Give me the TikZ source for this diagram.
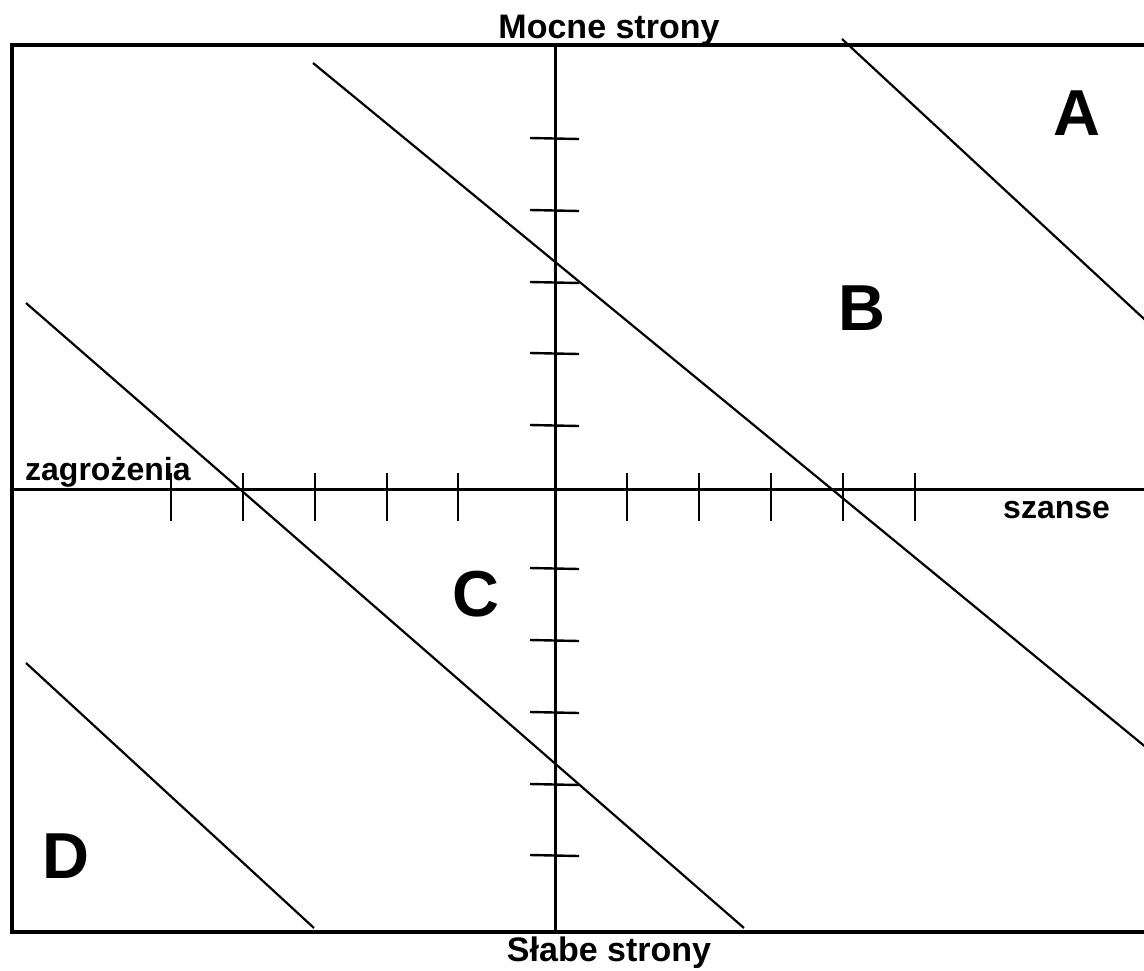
\documentclass[tikz,border=0pt]{standalone}
\usepackage{fontspec}
\setmainfont{Liberation Sans}
\begin{document}
\begin{tikzpicture}[x=1pt,y=-1pt,
  frame/.style={line width=3.4pt},
  axis/.style={line width=3pt},
  tick/.style={line width=2.4pt},
  diag/.style={line width=2.2pt},
  lbl/.style={font=\fontsize{32}{33}\selectfont\bfseries, inner sep=0pt},
  ttl/.style={font=\fontsize{34}{35}\selectfont\bfseries, inner sep=0pt, anchor=base},
  big/.style={font=\fontsize{65}{66}\selectfont\bfseries, inner sep=0pt, anchor=base}]
\useasboundingbox (0,0) rectangle (1144,970);
% frame
\draw[frame] (1170,45) -- (12,45) -- (12,932) -- (1170,932);
% axes
\coordinate (xl) at (12,489);
\coordinate (xr) at (1170,489);
\coordinate (yt) at (555,45);
\coordinate (yb) at (555,932);
\draw[axis] (xl) -- (xr);
\draw[axis] (yt) -- (yb);
% ticks horizontal
\foreach \x in {171,243,315,387,458,627,699,771,843,915}
  \draw[tick] (\x,473) -- (\x,521);
% ticks vertical
\foreach \y in {138,210,282,353,425,568,640,712,784,855}
  \draw[tick] (530,\y) -- (579,\y+1);
% diagonals
\coordinate (a1) at (842,39);  \coordinate (a2) at (1170,343);
\coordinate (b1) at (313,63);  \coordinate (b2) at (1170,767);
\coordinate (c1) at (26,303);  \coordinate (c2) at (744,928);
\coordinate (d1) at (26,663);  \coordinate (d2) at (314,928);
\draw[diag] (a1) -- (a2);
\draw[diag] (b1) -- (b2);
\draw[diag] (c1) -- (c2);
\draw[diag] (d1) -- (d2);
% labels
\node[ttl] (top) at (609,38) {Mocne strony};
\node[ttl] (bot) at (609,961) {Słabe strony};
\node[lbl, anchor=base west] (zag) at (25,480) {zagrożenia};
\node[lbl, anchor=base west] (sza) at (1003,518) {szanse};
\node[big] (A) at (1077,135) {A};
\node[big] (B) at (862,330) {B};
\node[big] (C) at (476,616) {C};
\node[big] (D) at (66,878) {D};
\end{tikzpicture}
\end{document}
